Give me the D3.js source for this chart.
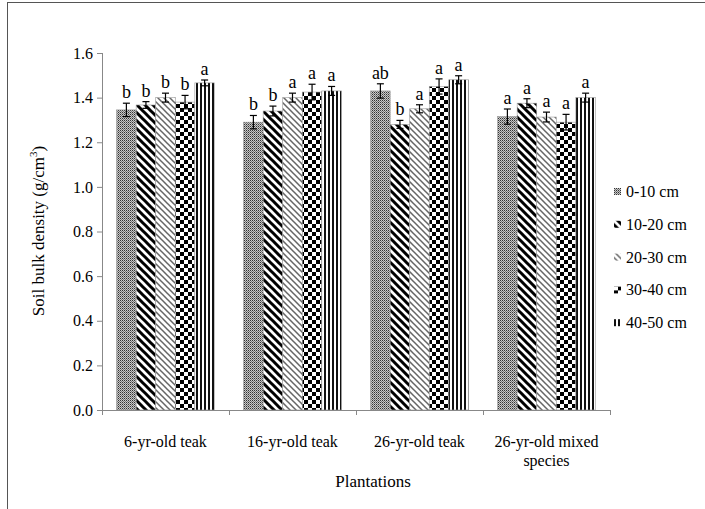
<!DOCTYPE html>
<html>
<head>
<script src="https://cdn.jsdelivr.net/npm/d3@7"></script>
</head>
<body style="margin:0">
<script>
// plantations and depth classes
let plantations = ['6-yr-old teak', '16-yr-old teak', '26-yr-old teak', '26-yr-old mixed species'];
let depths = ['0-10 cm', '10-20 cm', '20-30 cm', '30-40 cm', '40-50 cm'];

// bulk density per depth (one value per plantation)
let d0_10  = [1.345, 1.29, 1.43, 1.315];
let d10_20 = [1.367, 1.34, 1.28, 1.375];
let d20_30 = [1.40, 1.40, 1.35, 1.313];
let d30_40 = [1.38, 1.425, 1.45, 1.29];
let d40_50 = [1.466, 1.43, 1.48, 1.40];

// standard errors
let e0_10  = [0.03, 0.03, 0.032, 0.034];
let e10_20 = [0.015, 0.022, 0.018, 0.02];
let e20_30 = [0.02, 0.02, 0.018, 0.022];
let e30_40 = [0.03, 0.035, 0.034, 0.035];
let e40_50 = [0.013, 0.02, 0.018, 0.02];

// significance letters
let l0_10  = ['b', 'b', 'ab', 'a'];
let l10_20 = ['b', 'b', 'b', 'a'];
let l20_30 = ['b', 'a', 'a', 'a'];
let l30_40 = ['b', 'a', 'a', 'a'];
let l40_50 = ['a', 'a', 'a', 'a'];

let yTicks = [0, 0.2, 0.4, 0.6, 0.8, 1.0, 1.2, 1.4, 1.6];

let values = [d0_10, d10_20, d20_30, d30_40, d40_50];
let errors = [e0_10, e10_20, e20_30, e30_40, e40_50];
let letters = [l0_10, l10_20, l20_30, l30_40, l40_50];

let rows = [];
depths.forEach(function(dep, j) {
  plantations.forEach(function(p, i) {
    rows.push({plant: p, depth: dep, j: j, v: values[j][i], e: errors[j][i], l: letters[j][i]});
  });
});

let serif = "'Liberation Serif'";
let svg = d3.select('body').append('svg').attr('width', 705).attr('height', 509);

// patterns
let defs = svg.append('defs');
function pat(id, w, h) {
  return defs.append('pattern').attr('id', id).attr('patternUnits', 'userSpaceOnUse')
    .attr('width', w).attr('height', h);
}
// fine checker
let p0 = pat('p0', 2, 2);
p0.append('rect').attr('width', 2).attr('height', 2).attr('fill', '#c8c8c8');
p0.append('rect').attr('width', 1).attr('height', 1).attr('fill', '#333');
p0.append('rect').attr('x', 1).attr('y', 1).attr('width', 1).attr('height', 1).attr('fill', '#777');
// wide diagonal
let p1 = pat('p1', 8, 8);
p1.append('rect').attr('width', 8).attr('height', 8).attr('fill', '#fff');
p1.append('path').attr('d', 'M-2,-2 L10,10 M-2,6 L2,10 M6,-2 L10,2').attr('stroke', '#000').attr('stroke-width', 3);
// thin diagonal
let p2 = pat('p2', 6, 6);
p2.append('rect').attr('width', 6).attr('height', 6).attr('fill', '#fff');
p2.append('path').attr('d', 'M-1,-1 L7,7 M-1,5 L1,7 M5,-1 L7,1').attr('stroke', '#666').attr('stroke-width', 1.5);
// big checker
let p3 = pat('p3', 8, 8);
p3.append('rect').attr('width', 8).attr('height', 8).attr('fill', '#fff');
p3.append('rect').attr('width', 4).attr('height', 4).attr('fill', '#000');
p3.append('rect').attr('x', 4).attr('y', 4).attr('width', 4).attr('height', 4).attr('fill', '#000');
// vertical lines
let p4 = pat('p4', 4, 4);
p4.append('rect').attr('width', 4).attr('height', 4).attr('fill', '#fff');
p4.append('rect').attr('width', 2).attr('height', 4).attr('fill', '#111');

// outer frame
svg.append('rect').attr('x', 7.5).attr('y', 2.5).attr('width', 720).attr('height', 530)
  .attr('fill', 'none').attr('stroke', '#555').attr('stroke-width', 1);

let mLeft = 102, mRight = 610, mTop = 53, mBottom = 410;

let x0 = d3.scaleBand().domain(plantations).range([mLeft, mRight]).paddingInner(0.23).paddingOuter(0.115);
let x1 = d3.scaleBand().domain(depths).range([0, x0.bandwidth()]);
let y = d3.scaleLinear().domain([0, 1.6]).range([mBottom, mTop]);

// y axis
let yAxis = svg.append('g').attr('transform', 'translate(' + mLeft + ',0)')
  .call(d3.axisLeft(y).tickValues(yTicks).tickFormat(d3.format('.1f')).tickSize(5).tickPadding(4));
yAxis.attr('font-family', null).attr('font-size', null);
yAxis.select('.domain').attr('stroke', '#888').attr('d', 'M0.5,' + mTop + 'V' + (mBottom + 0.5));
yAxis.selectAll('.tick line').attr('stroke', '#888');
yAxis.selectAll('.tick text').attr('fill', '#000').attr('font-size', 16).style('font-family', serif);

// bars
let bars = svg.append('g');
bars.selectAll('rect').data(rows).enter().append('rect')
  .attr('x', function(d) { return x0(d.plant) + x1(d.depth); })
  .attr('y', function(d) { return y(d.v); })
  .attr('width', x1.bandwidth())
  .attr('height', function(d) { return y(0) - y(d.v); })
  .attr('fill', function(d) { return 'url(#p' + d.j + ')'; })
  .attr('stroke', '#999').attr('stroke-width', 0.6);

// error bars
let eb = svg.append('g').attr('stroke', '#000').attr('stroke-width', 1.2);
rows.forEach(function(d) {
  let cx = x0(d.plant) + x1(d.depth) + x1.bandwidth() / 2;
  eb.append('line').attr('x1', cx).attr('x2', cx).attr('y1', y(d.v - d.e)).attr('y2', y(d.v + d.e));
  eb.append('line').attr('x1', cx - 3.5).attr('x2', cx + 3.5).attr('y1', y(d.v - d.e)).attr('y2', y(d.v - d.e));
  eb.append('line').attr('x1', cx - 3.5).attr('x2', cx + 3.5).attr('y1', y(d.v + d.e)).attr('y2', y(d.v + d.e));
});

// letters
svg.append('g').selectAll('text').data(rows).enter().append('text')
  .attr('x', function(d) { return x0(d.plant) + x1(d.depth) + x1.bandwidth() / 2; })
  .attr('y', function(d) { return y(d.v + d.e) - 5; })
  .attr('text-anchor', 'middle').attr('font-size', 18)
  .style('font-family', serif)
  .text(function(d) { return d.l; });

// x axis
let xAxis = svg.append('g').attr('transform', 'translate(0,' + mBottom + ')');
xAxis.append('line').attr('x1', mLeft).attr('x2', mRight).attr('y1', 0.5).attr('y2', 0.5).attr('stroke', '#888');
let bounds = [mLeft].concat(plantations.map(function(p) { return x0(p) + x0.bandwidth() + x0.step() * x0.paddingInner() / 2; }));
bounds[bounds.length - 1] = mRight;
xAxis.selectAll('.xt').data(bounds).enter().append('line')
  .attr('x1', function(d) { return Math.round(d) + 0.5; }).attr('x2', function(d) { return Math.round(d) + 0.5; })
  .attr('y1', 0).attr('y2', 5).attr('stroke', '#888');

let catLabels = svg.append('g');
plantations.forEach(function(p) {
  let cx = x0(p) + x0.bandwidth() / 2;
  let t = catLabels.append('text').attr('x', cx).attr('y', 447).attr('text-anchor', 'middle')
    .attr('font-size', 16).style('font-family', serif);
  if (p === '26-yr-old mixed species') {
    t.append('tspan').attr('x', cx).text('26-yr-old mixed');
    t.append('tspan').attr('x', cx).attr('dy', 19).text('species');
  } else {
    t.text(p);
  }
});

// axis titles
svg.append('text').attr('x', 373).attr('y', 487).attr('text-anchor', 'middle')
  .attr('font-size', 17).style('font-family', serif).text('Plantations');
let yt = svg.append('text').attr('transform', 'translate(44,231) rotate(-90)')
  .attr('text-anchor', 'middle').attr('font-size', 17).style('font-family', serif);
yt.append('tspan').text('Soil bulk density (g/cm');
yt.append('tspan').attr('dy', -7).attr('font-size', 11).text('3');
yt.append('tspan').attr('dy', 7).text(')');

// legend
let lg = svg.append('g').selectAll('g').data(depths).enter().append('g')
  .attr('transform', function(d, i) { return 'translate(614,' + (192 + i * 32.8) + ')'; });
lg.append('rect').attr('x', 0).attr('y', -4).attr('width', 7).attr('height', 7)
  .attr('fill', function(d, i) { return 'url(#p' + i + ')'; });
lg.append('text').attr('x', 12).attr('y', 5).attr('font-size', 16).style('font-family', serif)
  .text(function(d) { return d; });
</script>
</body>
</html>
